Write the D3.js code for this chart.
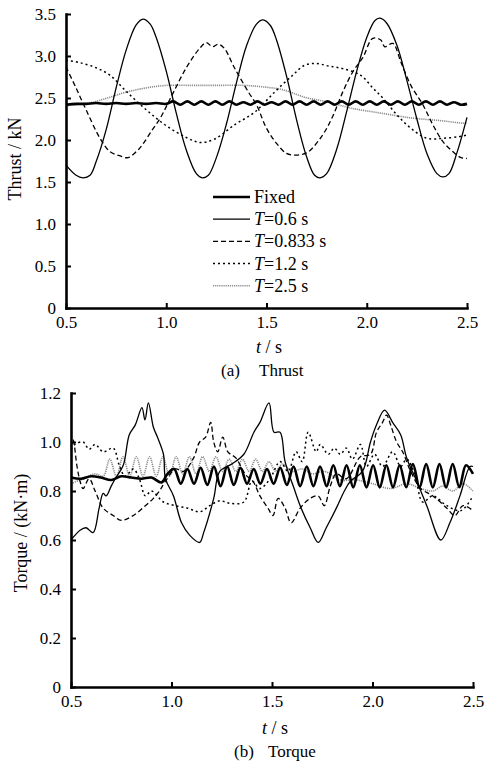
<!DOCTYPE html>
<html>
<head>
<meta charset="utf-8">
<script src="https://cdn.jsdelivr.net/npm/d3@7"></script>
<style>
  body { margin: 0; background: #fff; }
  text { font-family: "Liberation Serif", "Times New Roman", serif; fill: #000; }
</style>
</head>
<body>
<svg id="chart"></svg>
<script>
const width = 484;
const height = 762;

// series labels (legend order)
const seriesNames = ["Fixed", "0.6", "0.833", "1.2", "2.5"];

// x ticks shared by both panels
const timeTicks = [0.5, 1.0, 1.5, 2.0, 2.5];
const thrustTicks = [0, 0.5, 1.0, 1.5, 2.0, 2.5, 3.0, 3.5];
const torqueTicks = [0, 0.2, 0.4, 0.6, 0.8, 1.0, 1.2];

// ---- thrust (kN), [t, value] ----
const thrustFixed = [[0.5,2.42],[0.55,2.43],[0.6,2.43],[0.65,2.44],[0.7,2.43],[0.75,2.44],[0.8,2.43],[0.85,2.44],[0.9,2.43],[0.95,2.44],[1.0,2.43],
  [1.035,2.46],[1.07,2.42],[1.105,2.46],[1.14,2.42],[1.175,2.46],[1.21,2.42],[1.245,2.46],[1.28,2.42],[1.315,2.46],[1.35,2.42],[1.385,2.45],[1.42,2.42],
  [1.455,2.46],[1.49,2.42],[1.525,2.45],[1.56,2.42],[1.595,2.46],[1.63,2.42],[1.665,2.46],[1.70,2.42],[1.735,2.46],[1.77,2.42],[1.805,2.46],[1.84,2.42],
  [1.875,2.46],[1.91,2.42],[1.945,2.46],[1.98,2.42],[2.015,2.46],[2.05,2.42],[2.085,2.46],[2.12,2.42],[2.155,2.46],[2.19,2.42],[2.225,2.46],[2.26,2.42],
  [2.295,2.46],[2.33,2.42],[2.365,2.46],[2.40,2.42],[2.435,2.45],[2.47,2.42],[2.5,2.43]];
const thrust06 = [[0.5,1.70],[0.55,1.58],[0.585,1.55],[0.62,1.58],[0.65,1.74],[0.70,2.12],[0.75,2.62],[0.80,3.07],[0.85,3.37],[0.884,3.44],[0.92,3.38],
  [0.95,3.22],[1.00,2.82],[1.05,2.32],[1.10,1.88],[1.15,1.60],[1.18,1.55],[1.21,1.58],[1.25,1.79],[1.30,2.19],[1.35,2.68],[1.40,3.12],[1.45,3.38],
  [1.483,3.43],[1.52,3.36],[1.55,3.19],[1.60,2.76],[1.65,2.24],[1.70,1.80],[1.74,1.58],[1.767,1.55],[1.80,1.60],[1.85,1.89],[1.90,2.34],[1.95,2.82],
  [2.00,3.22],[2.04,3.42],[2.066,3.45],[2.10,3.39],[2.15,3.13],[2.20,2.71],[2.25,2.25],[2.30,1.84],[2.35,1.60],[2.38,1.56],[2.41,1.60],[2.45,1.85],[2.50,2.27]];
const thrust0833 = [[0.5,2.87],[0.55,2.62],[0.60,2.36],[0.67,2.02],[0.72,1.86],[0.77,1.81],[0.81,1.79],[0.85,1.86],[0.88,1.94],[0.93,2.12],[0.97,2.26],
  [1.03,2.54],[1.10,2.86],[1.17,3.10],[1.20,3.16],[1.23,3.11],[1.26,3.14],[1.29,3.09],[1.34,2.86],[1.41,2.57],[1.45,2.42],[1.50,2.14],[1.55,1.96],
  [1.60,1.84],[1.64,1.82],[1.68,1.83],[1.71,1.86],[1.78,2.06],[1.83,2.28],[1.88,2.57],[1.93,2.81],[1.98,2.98],[2.03,3.21],[2.07,3.19],[2.09,3.11],
  [2.13,3.15],[2.17,2.93],[2.22,2.65],[2.28,2.42],[2.33,2.18],[2.38,1.98],[2.43,1.86],[2.47,1.79],[2.50,1.78]];
const thrust12 = [[0.5,2.95],[0.57,2.92],[0.65,2.86],[0.72,2.77],[0.80,2.58],[0.90,2.36],[1.00,2.17],[1.10,2.03],[1.17,1.97],[1.24,2.01],[1.34,2.18],
  [1.44,2.33],[1.54,2.57],[1.63,2.77],[1.69,2.89],[1.75,2.91],[1.81,2.88],[1.88,2.85],[1.97,2.77],[2.03,2.62],[2.08,2.50],[2.15,2.30],[2.22,2.14],
  [2.30,2.02],[2.38,2.02],[2.46,2.04],[2.50,2.06]];
const thrust25 = [[0.5,2.41],[0.55,2.42],[0.635,2.45],[0.72,2.51],[0.80,2.57],[0.90,2.62],[1.00,2.65],[1.13,2.65],[1.24,2.65],[1.39,2.65],[1.49,2.63],
  [1.58,2.60],[1.69,2.51],[1.81,2.45],[1.92,2.38],[2.07,2.32],[2.23,2.26],[2.37,2.23],[2.48,2.20],[2.50,2.20]];

// ---- torque (kN·m) ----
const torqueFixed = [[0.5,0.855],[0.55,0.85],[0.6,0.86],[0.65,0.855],[0.7,0.845],[0.75,0.86],[0.8,0.855],[0.85,0.85],[0.9,0.855],[0.95,0.835],[0.98,0.87],
  [1.013,0.89],[1.046,0.83],[1.079,0.89],[1.112,0.83],[1.145,0.895],[1.178,0.825],[1.211,0.90],[1.244,0.82],[1.277,0.90],[1.31,0.825],[1.343,0.895],
  [1.376,0.83],[1.409,0.89],[1.442,0.83],[1.475,0.89],[1.508,0.83],[1.541,0.895],[1.574,0.825],[1.607,0.90],[1.64,0.82],[1.673,0.90],[1.706,0.82],
  [1.739,0.90],[1.772,0.82],[1.805,0.905],[1.838,0.82],[1.871,0.905],[1.904,0.815],[1.937,0.905],[1.97,0.815],[2.003,0.905],[2.036,0.815],[2.069,0.905],
  [2.102,0.815],[2.135,0.905],[2.168,0.815],[2.201,0.91],[2.234,0.815],[2.267,0.91],[2.30,0.815],[2.333,0.91],[2.366,0.815],[2.399,0.91],[2.432,0.815],
  [2.465,0.905],[2.50,0.87]];
const torque06 = [[0.5,0.60],[0.51,0.61],[0.545,0.64],[0.575,0.65],[0.61,0.63],[0.64,0.73],[0.66,0.79],[0.675,0.78],[0.70,0.82],[0.72,0.85],[0.76,0.905],
  [0.79,1.03],[0.82,1.07],[0.853,1.14],[0.868,1.09],[0.885,1.16],[0.91,1.06],[0.93,1.02],[0.96,0.95],[0.97,0.85],[1.01,0.78],[1.05,0.67],[1.09,0.62],
  [1.14,0.59],[1.16,0.63],[1.21,0.77],[1.24,0.88],[1.30,0.91],[1.36,0.95],[1.41,1.04],[1.44,1.08],[1.485,1.16],[1.51,1.04],[1.54,1.04],[1.565,0.92],
  [1.61,0.81],[1.645,0.73],[1.69,0.65],[1.73,0.59],[1.77,0.65],[1.82,0.73],[1.86,0.80],[1.89,0.84],[1.95,0.88],[1.99,1.00],[2.02,1.07],[2.06,1.13],
  [2.10,1.08],[2.14,1.03],[2.17,0.935],[2.22,0.84],[2.27,0.74],[2.34,0.60],[2.385,0.67],[2.435,0.78],[2.485,0.90],[2.50,0.90]];
const torque0833 = [[0.5,0.98],[0.51,1.01],[0.53,0.90],[0.545,0.84],[0.56,0.81],[0.59,0.85],[0.62,0.80],[0.66,0.73],[0.71,0.70],[0.75,0.68],[0.81,0.70],
  [0.87,0.74],[0.91,0.77],[0.94,0.80],[0.97,0.84],[1.02,0.89],[1.06,0.88],[1.11,0.935],[1.14,1.00],[1.17,1.02],[1.195,1.08],[1.21,1.00],[1.23,0.96],
  [1.255,1.02],[1.28,0.96],[1.32,0.935],[1.37,0.865],[1.405,0.84],[1.44,0.78],[1.48,0.73],[1.505,0.70],[1.53,0.77],[1.565,0.73],[1.595,0.67],[1.64,0.73],
  [1.69,0.77],[1.73,0.78],[1.76,0.74],[1.79,0.82],[1.82,0.87],[1.87,0.85],[1.94,0.94],[1.99,0.95],[2.02,1.04],[2.05,1.08],[2.07,1.11],[2.09,1.07],
  [2.12,1.00],[2.15,0.96],[2.19,0.88],[2.24,0.81],[2.30,0.78],[2.37,0.73],[2.41,0.70],[2.45,0.74],[2.50,0.72]];
const torque12 = [[0.5,0.97],[0.52,0.99],[0.56,1.00],[0.59,0.97],[0.62,0.99],[0.66,0.96],[0.71,0.975],[0.74,0.905],[0.77,0.86],[0.81,0.89],[0.84,0.85],
  [0.87,0.78],[0.90,0.80],[0.96,0.755],[1.02,0.74],[1.08,0.73],[1.14,0.715],[1.19,0.74],[1.24,0.76],[1.29,0.75],[1.36,0.755],[1.40,0.84],[1.44,0.81],
  [1.49,0.85],[1.54,0.92],[1.58,0.88],[1.62,0.96],[1.65,0.92],[1.68,1.04],[1.72,0.96],[1.74,0.99],[1.78,0.95],[1.81,0.975],[1.84,0.95],[1.87,0.975],
  [1.90,0.93],[1.94,0.99],[1.97,0.90],[2.01,0.95],[2.05,0.90],[2.10,0.96],[2.14,0.90],[2.17,0.93],[2.21,0.87],[2.25,0.755],[2.30,0.78],[2.37,0.74],
  [2.44,0.72],[2.50,0.78]];
const torque25 = [[0.5,0.83],[0.56,0.85],[0.62,0.87],[0.66,0.86],[0.693,0.93],[0.726,0.86],[0.759,0.94],[0.792,0.86],[0.825,0.94],[0.858,0.86],
  [0.891,0.94],[0.924,0.86],[0.957,0.94],[0.99,0.86],[1.023,0.94],[1.056,0.87],[1.089,0.94],[1.122,0.87],[1.155,0.94],[1.188,0.88],[1.221,0.94],
  [1.254,0.88],[1.287,0.93],[1.32,0.88],[1.353,0.93],[1.386,0.88],[1.419,0.93],[1.452,0.88],[1.485,0.92],[1.518,0.88],[1.551,0.91],[1.60,0.88],
  [1.65,0.89],[1.70,0.87],[1.76,0.88],[1.84,0.845],[1.92,0.845],[2.00,0.83],[2.09,0.81],[2.17,0.83],[2.24,0.81],[2.30,0.80],[2.35,0.82],[2.40,0.80],
  [2.45,0.83],[2.50,0.80]];

// line styles, same order as seriesNames
const styles = [
  { color: "#000", width: 2.6, dash: null },
  { color: "#000", width: 1.3, dash: null },
  { color: "#000", width: 1.3, dash: "5,3" },
  { color: "#000", width: 1.5, dash: "2,3" },
  { color: "#8c8c8c", width: 1.6, dash: "1.2,0.9" }
];

const serif = '"Liberation Serif", "Times New Roman", serif';

const svg = d3.select("#chart")
    .attr("width", width)
    .attr("height", height)
    .attr("viewBox", `0 0 ${width} ${height}`);

const fmt = d => d === 0 ? "0" : d3.format(".1f")(d);

function drawPanel(opt) {
    const x = d3.scaleLinear().domain([0.5, 2.5]).range(opt.xRange);
    const y = d3.scaleLinear().domain(opt.yDomain).range(opt.yRange);
    const g = svg.append("g");

    const line = d3.line()
        .x(d => x(d[0]))
        .y(d => y(d[1]))
        .curve(d3.curveCatmullRom.alpha(0.5));

    // draw back to front: light series first, fixed on top
    [4, 3, 2, 1, 0].forEach(i => {
        g.append("path")
            .datum(opt.series[i])
            .attr("fill", "none")
            .attr("stroke", styles[i].color)
            .attr("stroke-width", styles[i].width)
            .attr("stroke-dasharray", styles[i].dash)
            .attr("stroke-linejoin", "round")
            .attr("d", line);
    });

    // axes with inward ticks
    const xAxis = g.append("g")
        .attr("transform", `translate(0,${opt.yRange[0]})`)
        .call(d3.axisBottom(x).tickValues(timeTicks).tickFormat(fmt)
            .tickSizeInner(-5).tickSizeOuter(0).tickPadding(8));
    const yAxis = g.append("g")
        .attr("transform", `translate(${opt.xRange[0]},0)`)
        .call(d3.axisLeft(y).tickValues(opt.yTicks).tickFormat(fmt)
            .tickSizeInner(-5).tickSizeOuter(0).tickPadding(10));

    [xAxis, yAxis].forEach(a => {
        a.attr("font-family", serif).attr("font-size", 17);
        a.select(".domain").attr("stroke-width", 2.6).attr("stroke-linecap", "square");
        a.selectAll(".tick line").attr("stroke-width", 2);
        a.selectAll("text").style("font-family", serif).style("font-size", "17px");
    });
    xAxis.selectAll("text").attr("dy", "0.72em");

    // x title "t / s"
    const xt = svg.append("text")
        .attr("x", opt.xTitleX).attr("y", opt.xTitleY)
        .attr("text-anchor", "middle")
        .style("font-size", "18px");
    xt.append("tspan").style("font-style", "italic").text("t");
    xt.append("tspan").text(" / s");

    // caption: tag and name
    svg.append("text")
        .attr("x", opt.tagX).attr("y", opt.captionY)
        .style("font-size", "17px")
        .text(opt.tag);
    svg.append("text")
        .attr("x", opt.nameX).attr("y", opt.captionY)
        .style("font-size", "17px")
        .text(opt.name);

    // y title
    svg.append("text")
        .attr("transform", `translate(${opt.yTitleX},${opt.yTitleY}) rotate(-90)`)
        .attr("text-anchor", "middle")
        .style("font-size", "18px")
        .text(opt.yTitle);
}

drawPanel({
    xRange: [66, 467], yRange: [308, 14], yDomain: [0, 3.5], yTicks: thrustTicks,
    series: [thrustFixed, thrust06, thrust0833, thrust12, thrust25],
    xTitleX: 269, xTitleY: 353, captionY: 376, tag: "(a)", name: "Thrust", tagX: 221, nameX: 259,
    yTitleX: 21, yTitleY: 159, yTitle: "Thrust / kN"
});

drawPanel({
    xRange: [71, 473], yRange: [687, 393], yDomain: [0, 1.2], yTicks: torqueTicks,
    series: [torqueFixed, torque06, torque0833, torque12, torque25],
    xTitleX: 275, xTitleY: 734, captionY: 757, tag: "(b)", name: "Torque", tagX: 234, nameX: 268,
    yTitleX: 27, yTitleY: 533, yTitle: "Torque / (kN\u00b7m)"
});

// legend inside the thrust panel
const legend = svg.append("g");
seriesNames.forEach((name, i) => {
    const cy = 197 + i * 22.2;
    legend.append("line")
        .attr("x1", 213).attr("x2", 250)
        .attr("y1", cy).attr("y2", cy)
        .attr("stroke", styles[i].color)
        .attr("stroke-width", styles[i].width)
        .attr("stroke-dasharray", styles[i].dash);
    const t = legend.append("text")
        .attr("x", 254).attr("y", cy + 6)
        .style("font-size", "18px");
    if (i === 0) {
        t.text(name);
    } else {
        t.append("tspan").style("font-style", "italic").text("T");
        t.append("tspan").text(`=${name} s`);
    }
});
</script>
</body>
</html>
